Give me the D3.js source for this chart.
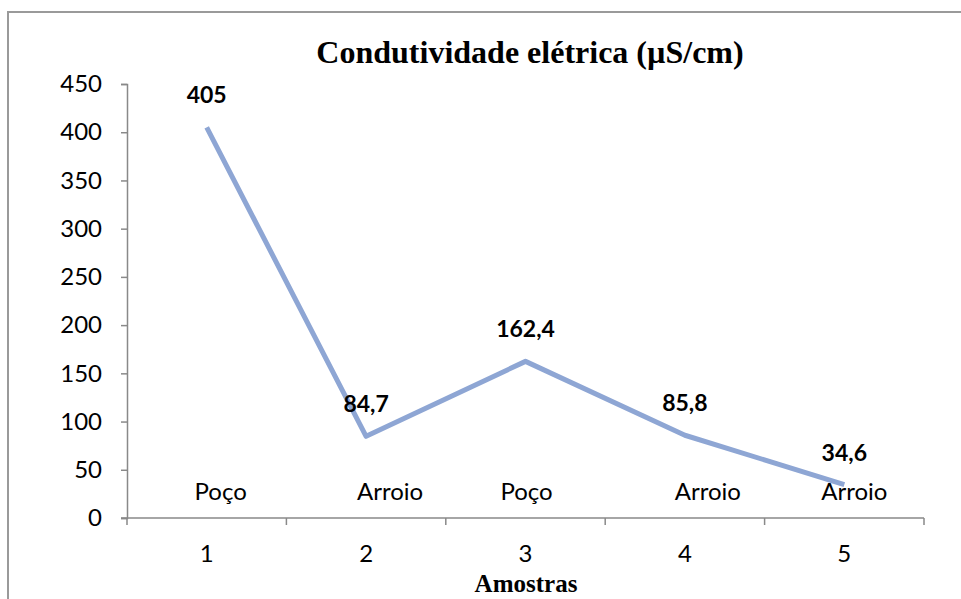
<!DOCTYPE html>
<html>
<head>
<meta charset="utf-8">
<script src="https://cdn.jsdelivr.net/npm/d3@7"></script>
<style>
  body { margin: 0; background: #fff; }
  svg { display: block; }
</style>
</head>
<body>
<svg id="chart" width="961" height="599"></svg>
<script>
// dados do gráfico
var amostras = [1, 2, 3, 4, 5];
var valores = [405, 84.7, 162.4, 85.8, 34.6];
var valorTexto = ["405", "84,7", "162,4", "85,8", "34,6"];
var tipos = ["Poço", "Arroio", "Poço", "Arroio", "Arroio"];
var yTicks = [0, 50, 100, 150, 200, 250, 300, 350, 400, 450];

// deslocamento manual dos rótulos de tipo (como no original)
var tipoDx = [14, 24, 1, 23, 10];

var svg = d3.select("#chart"),
    width = +svg.attr("width"),
    height = +svg.attr("height");

var mLeft = 127, mRight = 924, mTop = 84, mBottom = 518;
var sans = "Lato, 'Open Sans', sans-serif";
var serif = "'Liberation Serif', 'Times New Roman', serif";
var axisColor = "#898989";

// moldura
svg.append("rect")
  .attr("x", 8).attr("y", 12)
  .attr("width", 980).attr("height", 620)
  .attr("fill", "none")
  .attr("stroke", "#9a9a9a")
  .attr("stroke-width", 2);

var x = d3.scaleBand().domain(amostras).range([mLeft, mRight]);
var y = d3.scaleLinear().domain([0, 450]).range([mBottom, mTop]);

// eixo y
var yAxis = svg.append("g")
  .attr("transform", "translate(" + mLeft + ",0)")
  .call(d3.axisLeft(y).tickValues(yTicks).tickSize(6).tickPadding(19));
yAxis.select(".domain").attr("stroke", axisColor).attr("stroke-width", 1.5);
yAxis.selectAll(".tick line").attr("stroke", axisColor).attr("stroke-width", 1.5);
yAxis.selectAll(".tick text")
  .attr("fill", "#000")
  .style("font-family", sans)
  .style("font-size", "24px");

// eixo x
var xAxis = svg.append("g")
  .attr("transform", "translate(0," + mBottom + ")")
  .call(d3.axisBottom(x).tickSize(0).tickPadding(27));
xAxis.select(".domain").remove();
xAxis.selectAll(".tick text")
  .attr("fill", "#000")
  .style("font-family", sans)
  .style("font-size", "24px");

svg.append("line")
  .attr("x1", mLeft - 6).attr("x2", mRight)
  .attr("y1", mBottom).attr("y2", mBottom)
  .attr("stroke", axisColor).attr("stroke-width", 1.5);

// marcas entre categorias
svg.append("g").selectAll("line")
  .data(amostras.concat(["fim"]))
  .enter().append("line")
  .attr("x1", function(d, i) { return mLeft + i * x.bandwidth(); })
  .attr("x2", function(d, i) { return mLeft + i * x.bandwidth(); })
  .attr("y1", mBottom).attr("y2", mBottom + 7)
  .attr("stroke", axisColor).attr("stroke-width", 1.5);

// linha
var line = d3.line()
  .x(function(d, i) { return x(amostras[i]) + x.bandwidth() / 2; })
  .y(function(d) { return y(d); });

svg.append("path")
  .datum(valores)
  .attr("d", line)
  .attr("fill", "none")
  .attr("stroke", "#8ea6d4")
  .attr("stroke-width", 5)
  .attr("stroke-linejoin", "round");

// rótulos dos valores
svg.append("g").selectAll("text")
  .data(valores)
  .enter().append("text")
  .attr("x", function(d, i) { return x(amostras[i]) + x.bandwidth() / 2; })
  .attr("y", function(d) { return y(d) - 24; })
  .attr("text-anchor", "middle")
  .style("font-family", sans)
  .style("font-size", "23px")
  .style("font-weight", "bold")
  .text(function(d, i) { return valorTexto[i]; });

// rótulos do tipo de amostra
svg.append("g").selectAll("text")
  .data(tipos)
  .enter().append("text")
  .attr("x", function(d, i) { return x(amostras[i]) + x.bandwidth() / 2 + tipoDx[i]; })
  .attr("y", mBottom - 18)
  .attr("text-anchor", "middle")
  .style("font-family", sans)
  .style("font-size", "24px")
  .text(function(d) { return d; });

// títulos
svg.append("text")
  .attr("x", 530).attr("y", 63)
  .attr("text-anchor", "middle")
  .style("font-family", serif)
  .style("font-size", "32px")
  .style("font-weight", "bold")
  .text("Condutividade elétrica (µS/cm)");

svg.append("text")
  .attr("x", 526).attr("y", 592)
  .attr("text-anchor", "middle")
  .style("font-family", serif)
  .style("font-size", "25px")
  .style("font-weight", "bold")
  .text("Amostras");
</script>
</body>
</html>
